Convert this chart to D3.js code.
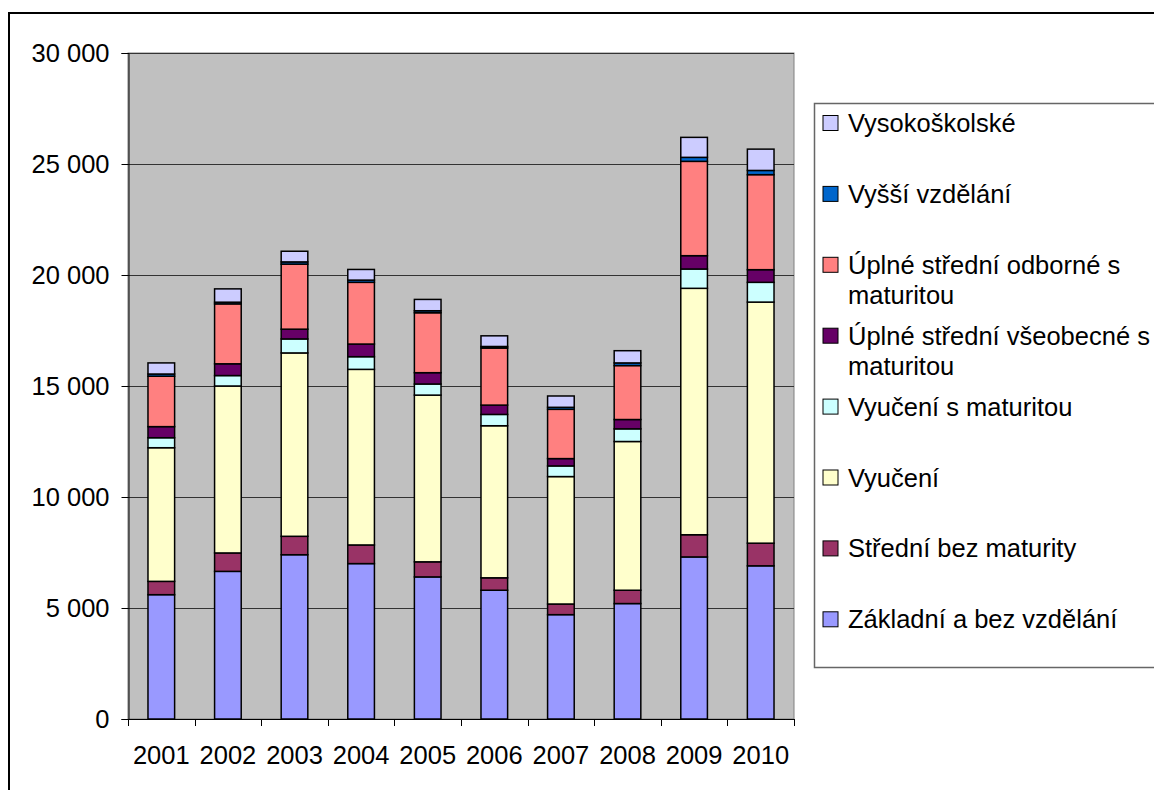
<!DOCTYPE html>
<html>
<head>
<meta charset="utf-8">
<script src="https://cdn.jsdelivr.net/npm/d3@7"></script>
<style>
  body { margin: 0; background: #fff; }
  text { font-family: Arial, "Liberation Sans", sans-serif; fill: #000; }
</style>
</head>
<body>
<div class="chart"></div>
<script>
var svgWidth = 1154;
var svgHeight = 790;

// plot area in pixels
var plot = { left: 128, top: 53, right: 794, bottom: 719 };

// Data
var years = ["2001", "2002", "2003", "2004", "2005", "2006", "2007", "2008", "2009", "2010"];
var seriesNames = [
  "Základní a bez vzdělání",
  "Střední bez maturity",
  "Vyučení",
  "Vyučení s maturitou",
  "Úplné střední všeobecné s maturitou",
  "Úplné střední odborné s maturitou",
  "Vyšší vzdělání",
  "Vysokoškolské"
];
var zakladni   = [5600, 6650, 7400, 7000, 6400, 5800, 4700, 5200, 7300, 6900];
var stredni    = [600, 830, 830, 840, 680, 560, 480, 600, 1000, 1020];
var vyuceni    = [6020, 7520, 8260, 7910, 7510, 6850, 5740, 6700, 11100, 10860];
var vyucMat    = [450, 470, 630, 570, 500, 510, 480, 570, 870, 890];
var vseobecne  = [500, 530, 440, 570, 510, 420, 330, 420, 600, 570];
var odborne    = [2270, 2700, 2930, 2780, 2700, 2570, 2220, 2430, 4250, 4280];
var vyssi      = [100, 75, 100, 100, 90, 70, 90, 120, 180, 190];
var vysokoskol = [500, 600, 480, 480, 510, 480, 510, 550, 900, 960];
var seriesValues = [zakladni, stredni, vyuceni, vyucMat, vseobecne, odborne, vyssi, vysokoskol];
var colors = ["#9999FF", "#993366", "#FFFFCC", "#CCFFFF", "#660066", "#FF8080", "#0066CC", "#CCCCFF"];
var yTicks = [0, 5000, 10000, 15000, 20000, 25000, 30000];

// legend lines (top to bottom)
var legendLines = [
  ["Vysokoškolské"],
  ["Vyšší vzdělání"],
  ["Úplné střední odborné s", "maturitou"],
  ["Úplné střední všeobecné s", "maturitou"],
  ["Vyučení s maturitou"],
  ["Vyučení"],
  ["Střední bez maturity"],
  ["Základní a bez vzdělání"]
];

// build table for stack
var table = years.map(function(y, i) {
  var row = { year: y };
  seriesNames.forEach(function(s, k) { row[s] = seriesValues[k][i]; });
  return row;
});
var stacked = d3.stack().keys(seriesNames)(table);

var svg = d3.select(".chart")
  .append("svg")
  .attr("width", svgWidth)
  .attr("height", svgHeight);

// outer chart border (runs off the page on the right and bottom)
svg.append("rect")
  .attr("x", 9)
  .attr("y", 13)
  .attr("width", 1200)
  .attr("height", 820)
  .attr("fill", "#fff")
  .attr("stroke", "#000")
  .attr("stroke-width", 2);

var xScale = d3.scaleBand()
  .domain(years)
  .range([plot.left, plot.right])
  .paddingInner(0.6)
  .paddingOuter(0.3);

var yScale = d3.scaleLinear()
  .domain([0, 30000])
  .range([plot.bottom, plot.top]);

// plot background
svg.append("rect")
  .attr("x", plot.left)
  .attr("y", plot.top)
  .attr("width", plot.right - plot.left)
  .attr("height", plot.bottom - plot.top)
  .attr("fill", "#C0C0C0")
  .attr("stroke", "#808080")
  .attr("stroke-width", 1);

// gridlines
svg.append("g")
  .selectAll("line")
  .data(yTicks.filter(function(t) { return t > 0; }))
  .enter()
  .append("line")
  .attr("x1", plot.left)
  .attr("x2", plot.right)
  .attr("y1", function(d) { return Math.round(yScale(d)) + 0.5; })
  .attr("y2", function(d) { return Math.round(yScale(d)) + 0.5; })
  .attr("stroke", "#333")
  .attr("stroke-width", 1);

// bars
var groups = svg.append("g")
  .selectAll("g")
  .data(stacked)
  .enter()
  .append("g")
  .attr("fill", function(d, i) { return colors[i]; });

groups.selectAll("rect")
  .data(function(d) { return d; })
  .enter()
  .append("rect")
  .attr("x", function(d) { return xScale(d.data.year); })
  .attr("y", function(d) { return yScale(d[1]); })
  .attr("width", xScale.bandwidth())
  .attr("height", function(d) { return yScale(d[0]) - yScale(d[1]); })
  .attr("stroke", "#000")
  .attr("stroke-width", 1.5);

// y axis
var leftAxis = d3.axisLeft(yScale)
  .tickValues(yTicks)
  .tickSize(7)
  .tickPadding(12)
  .tickFormat(function(d) { return d3.format(",")(d).replace(/,/g, " "); });

var yAxisG = svg.append("g")
  .attr("transform", "translate(" + (plot.left + 0.5) + ",0)")
  .call(leftAxis);
yAxisG.select(".domain").attr("stroke", "#000");
yAxisG.selectAll(".tick line").attr("stroke", "#000");
yAxisG.selectAll("text")
  .attr("font-size", "25.5px")
  .attr("font-family", "Arial, 'Liberation Sans', sans-serif")
  .attr("fill", "#000");

// x axis: labels centred, ticks between categories
var bottomAxis = d3.axisBottom(xScale).tickSize(0).tickPadding(26);
var xAxisG = svg.append("g")
  .attr("transform", "translate(0," + (plot.bottom + 0.5) + ")")
  .call(bottomAxis);
xAxisG.select(".domain").remove();
xAxisG.selectAll("text")
  .attr("font-size", "25.5px")
  .attr("font-family", "Arial, 'Liberation Sans', sans-serif")
  .attr("fill", "#000");

svg.append("line")
  .attr("x1", plot.left)
  .attr("x2", plot.right)
  .attr("y1", plot.bottom + 0.5)
  .attr("y2", plot.bottom + 0.5)
  .attr("stroke", "#000");

var step = xScale.step();
svg.append("g")
  .selectAll("line")
  .data(d3.range(years.length + 1))
  .enter()
  .append("line")
  .attr("x1", function(i) { return Math.round(plot.left + i * step) + 0.5; })
  .attr("x2", function(i) { return Math.round(plot.left + i * step) + 0.5; })
  .attr("y1", plot.bottom)
  .attr("y2", plot.bottom + 7)
  .attr("stroke", "#000");

// legend
var legend = svg.append("g");
legend.append("rect")
  .attr("x", 814.5)
  .attr("y", 103.5)
  .attr("width", 400)
  .attr("height", 564)
  .attr("fill", "#fff")
  .attr("stroke", "#666")
  .attr("stroke-width", 1.5);

var legendColors = colors.slice().reverse();
var items = legend.selectAll("g.item")
  .data(legendLines)
  .enter()
  .append("g")
  .attr("class", "item")
  .attr("transform", function(d, i) { return "translate(823," + (123 + i * 70.9) + ")"; });

items.append("rect")
  .attr("x", 0)
  .attr("y", -7.5)
  .attr("width", 15)
  .attr("height", 15)
  .attr("fill", function(d, i) { return legendColors[i]; })
  .attr("stroke", "#000")
  .attr("stroke-width", 1);

items.append("text")
  .attr("x", 25)
  .attr("y", 9)
  .attr("font-size", "25.5px")
  .selectAll("tspan")
  .data(function(d) { return d; })
  .enter()
  .append("tspan")
  .attr("x", 25)
  .attr("dy", function(d, i) { return i === 0 ? 0 : 30; })
  .text(function(d) { return d; });
</script>
</body>
</html>
